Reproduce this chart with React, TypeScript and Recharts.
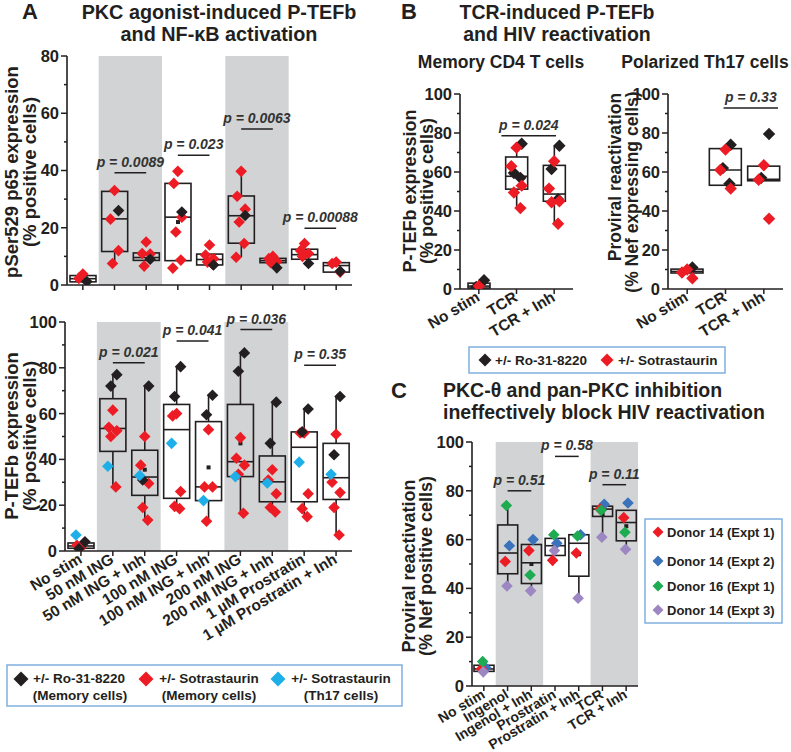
import React from 'react'
import {
  ComposedChart,
  Bar,
  Scatter,
  XAxis,
  YAxis,
  ReferenceArea,
  ReferenceLine,
  ReferenceDot,
} from 'recharts'

const FONT = '"Liberation Sans", Arial, Helvetica, sans-serif'
const INK = '#231f20'
const BAND = '#d1d3d4'
const LEGEND_EDGE = '#7fb0de'
const BLACK = '#231f20'
const RED = '#ed1c24'
const CYAN = '#1eaee8'
const BLUE = '#3a72bb'
const GREEN = '#1fab52'
const PURPLE = '#9c87c3'

// ---- Panel A, top: pSer529 p65 ----
const A_CATS = [
  'No stim',
  '50 nM ING',
  '50 nM ING + Inh',
  '100 nM ING',
  '100 nM ING + Inh',
  '200 nM ING',
  '200 nM ING + Inh',
  '1 µM Prostratin',
  '1 µM Prostratin + Inh',
]
const A_TOP_RED = [
  [3.8, 2.3],
  [33, 23, 12, 7.5],
  [15, 11, 10.8, 6.6],
  [39.7, 35.5, 23.7, 18.5, 8.7, 5.9],
  [14, 10.5, 9.2, 8, 7.3],
  [39.7, 31, 26.5, 22, 14.5, 9.7],
  [10, 9.2, 8.2, 7.8],
  [14.5, 12, 11, 10],
  [8, 7.5, 4.5],
]
const A_TOP_BLACK = [[1.2], [26], [9], [25.5], [7], [24.3], [6], [7.5], [4.8]]
const A_TOP_Q1 = [1.1, 11.7, 8.6, 8.5, 7.0, 14.6, 7.8, 9.0, 4.5]
const A_TOP_MED = [2.2, 23.1, 9.6, 23.7, 8.9, 24.2, 8.5, 10.6, 6.8]
const A_TOP_Q3 = [3.3, 32.7, 11.2, 35.5, 10.8, 31.1, 9.3, 12.5, 7.8]
const A_TOP_LO = [null, 7.5, null, null, null, 9.7, null, null, null]
const A_TOP_HI = [null, null, null, null, null, 39.7, null, null, null]
const A_TOP_MEAN = [null, null, null, 22, null, null, null, null, null]
const A_TOP_P = ['p = 0.0089', 'p = 0.023', 'p = 0.0063', 'p = 0.00088']
const A_TOP_P_Y = [39.2, 45.3, 54.5, 19.8]
const A_TOP_P_X = [[1, 2], [3, 4], [5, 6], [7, 8]]

// ---- Panel A, bottom: P-TEFb ----
const A_BOT_BLACK = [[4, 1], [77, 72], [72, 31], [80.5, 67.5], [68, 59.5], [86.5, 78.5], [65, 47], [62, 52], [67.5, 42]]
const A_BOT_RED = [
  [1.5, 2.5],
  [61.5, 54, 52.5, 50, 28],
  [50, 37.5, 29.5, 19, 13.5],
  [60, 59, 26, 19.5, 18.5],
  [53, 28, 28, 13],
  [49.5, 40.5, 37.5, 33.5, 16.5],
  [35.5, 31, 25, 19, 17],
  [51.5, 51.5, 25, 18.5, 15],
  [51, 30, 25.5, 19, 7],
]
const A_BOT_CYAN = [[7], [37], [33], [47], [22], [32.5], [29.7], [38.8], [33.5]]
const A_BOT_Q1 = [1.2, 43.5, 24.3, 23, 22, 32.5, 21.5, 21.5, 22.5]
const A_BOT_MED = [2.2, 53.5, 32.3, 53, 28, 39, 30.2, 45.3, 32]
const A_BOT_Q3 = [3.5, 66.5, 44, 64, 56.5, 64, 41.5, 52, 47]
const A_BOT_LO = [null, 28, 13.5, 18.5, 13, 16.5, 17, 15, 7]
const A_BOT_HI = [null, 77, 72, 80.5, 68, 86.5, 65, 62, 67.5]
const A_BOT_MEAN = [null, null, 35.5, null, 36.5, 47, null, null, null]
const A_BOT_P = ['p = 0.021', 'p = 0.041', 'p = 0.036', 'p = 0.35']
const A_BOT_P_Y = [82.2, 91.7, 96.7, 81.1]
const A_BOT_P_X = [[1, 2], [3, 4], [5, 6], [7, 8]]

// ---- Panel B ----
const B_CATS = ['No stim', 'TCR', 'TCR + Inh']
const B_MEM_BLACK = [[4.5, 1], [74.5, 59.5, 57], [73.5, 61.5, 46]]
const B_MEM_RED = [[1.5], [72.5, 63, 53, 49.5, 41.5], [65.5, 51.5, 45, 44.5, 33.5]]
const B_MEM_Q1 = [0.5, 51.2, 45]
const B_MEM_MED = [1.5, 57.8, 48.7]
const B_MEM_Q3 = [3, 67.7, 63.4]
const B_MEM_LO = [null, 41.5, 33.5]
const B_MEM_HI = [null, 74.5, 73.5]
const B_MEM_P = ['p = 0.024']
const B_MEM_P_Y = [78.6]
const B_MEM_P_X = [[0.6, 2.05]]

const B_TH_BLACK = [[11], [74, 62, 54], [79.5, 57]]
const B_TH_RED = [[10, 8.5, 5.5], [71.5, 61, 51.5], [63.5, 56, 36]]
const B_TH_Q1 = [8.2, 53.2, 55.5]
const B_TH_MED = [9, 61, 56.3]
const B_TH_Q3 = [10.2, 72, 63]
const B_TH_P = ['p = 0.33']
const B_TH_P_Y = [92.8]
const B_TH_P_X = [[0.95, 2.37]]

// ---- Panel C ----
const C_CATS = ['No stim', 'Ingenol', 'Ingenol + Inh', 'Prostratin', 'Prostratin + Inh', 'TCR', 'TCR + Inh']
const C_RED = [7, 51, 55.5, 51.5, 54.5, 72.5, 69]
const C_BLUE = [7.5, 57.5, 60, 58.5, 62, 74.5, 75]
const C_GREEN = [10, 74, 45.5, 62, 61.5, 72, 63]
const C_PURPLE = [5.8, 41, 39, 55.5, 36, 61, 56]
const C_Q1 = [6, 46, 42, 53.5, 45, 69.5, 59.5]
const C_MED = [7, 54.5, 50.5, 57.5, 58.5, 72.5, 67]
const C_Q3 = [8.5, 66, 58, 60.5, 62, 73.7, 72]
const C_LO = [null, 41, 39, null, 36, 61, 56]
const C_HI = [null, 74, null, null, null, null, null]
const C_MEAN = [null, null, 50, null, 54, 70.5, 65.5]
const C_P = ['p = 0.51', 'p = 0.58', 'p = 0.11']
const C_P_Y = [80, 94.1, 82.5]
const C_P_X = [[1, 2], [3, 4], [5, 6]]

const SHADED = [[0.5, 2.5], [4.5, 6.5]]
const JITTER = [0, -4, 4, -2, 3, -5, 5, -1]

type Num = number | null
type Series = { color: string; values: number[][]; seed: number }

const range = (n: number, step: number, max: number) => {
  const out: number[] = []
  for (let v = n; v <= max; v += step) out.push(v)
  return out
}

const BoxShape = (props: any) => {
  const { x, y, width, height, payload } = props
  if (!payload) return null
  const top = Math.min(y, y + height)
  const h = Math.abs(height)
  const unit = h / (payload.q3 - payload.q1)
  const py = (v: number) => top + (payload.q3 - v) * unit
  const cx = x + width / 2
  return (
    <g>
      {payload.hi != null && (
        <line x1={cx} x2={cx} y1={top} y2={py(payload.hi)} stroke={INK} strokeWidth={1.6} />
      )}
      {payload.lo != null && (
        <line x1={cx} x2={cx} y1={top + h} y2={py(payload.lo)} stroke={INK} strokeWidth={1.6} />
      )}
      <rect x={x} y={top} width={width} height={h} fill="none" stroke={INK} strokeWidth={1.6} />
      <line x1={x} x2={x + width} y1={py(payload.med)} y2={py(payload.med)} stroke={INK} strokeWidth={1.6} />
      {payload.mean != null && (
        <rect x={cx - 2} y={py(payload.mean) - 2} width={4} height={4} fill={INK} />
      )}
    </g>
  )
}

const diamond = (color: string, r: number, seed: number, spread: number) => (props: any) => {
  const { cx, cy, payload } = props
  if (cx == null || cy == null) return null
  const dx = JITTER[(payload.k + seed) % JITTER.length] * spread
  const x = cx + dx
  return <polygon points={`${x},${cy - r} ${x + r},${cy} ${x},${cy + r} ${x - r},${cy}`} fill={color} />
}

const YTick = (props: any) => {
  const { x, y, payload, fs } = props
  const ax = x + 9
  const major = payload.value % 20 === 0
  return (
    <g>
      <line x1={ax - (major ? 6 : 3)} x2={ax} y1={y} y2={y} stroke={INK} strokeWidth={1.5} />
      {major && (
        <text x={ax - 8} y={y} dy="0.36em" textAnchor="end" fontSize={fs} fontWeight={700} fill={INK} fontFamily={FONT}>
          {payload.value}
        </text>
      )}
    </g>
  )
}

const XTick = (props: any) => {
  const { x, y, payload, labels, fs } = props
  if (!labels) return <g />
  return (
    <text
      transform={`translate(${x + 2},${y + 4}) rotate(-31)`}
      textAnchor="end"
      fontSize={fs}
      fontWeight={700}
      fill={INK}
      fontFamily={FONT}
    >
      {labels[Math.round(payload.value)]}
    </text>
  )
}

type BoxChartProps = {
  width: number
  height: number
  margin: { top: number; right: number; bottom: number; left: number }
  yWidth: number
  xHeight: number
  cats: string[]
  showLabels: boolean
  labelSize: number
  q1: number[]
  med: number[]
  q3: number[]
  lo?: Num[]
  hi?: Num[]
  mean?: Num[]
  series: Series[]
  pText: string[]
  pY: number[]
  pX: number[][]
  bands: number[][]
  yMax: number
  barSize: number
  r: number
  spread: number
}

function BoxChart(p: BoxChartProps) {
  const rows = p.cats.map((c, i) => ({
    x: i,
    name: c,
    box: [p.q1[i], p.q3[i]],
    q1: p.q1[i],
    med: p.med[i],
    q3: p.q3[i],
    lo: p.lo ? p.lo[i] : null,
    hi: p.hi ? p.hi[i] : null,
    mean: p.mean ? p.mean[i] : null,
  }))
  const n = p.cats.length
  return (
    <ComposedChart width={p.width} height={p.height} margin={p.margin} data={rows}>
      {p.bands.map((b, i) => (
        <ReferenceArea key={`band-${i}`} x1={b[0]} x2={b[1]} fill={BAND} fillOpacity={1} stroke="none" />
      ))}
      <XAxis
        type="number"
        dataKey="x"
        domain={[-0.5, n - 0.5]}
        ticks={p.cats.map((_, i) => i)}
        interval={0}
        allowDataOverflow
        height={p.xHeight}
        tickSize={5}
        tickMargin={2}
        axisLine={{ stroke: INK, strokeWidth: 1.6 }}
        tickLine={{ stroke: INK, strokeWidth: 1.5 }}
        tick={<XTick labels={p.showLabels ? p.cats : null} fs={p.labelSize} />}
      />
      <YAxis
        type="number"
        domain={[0, p.yMax]}
        ticks={range(0, 10, p.yMax)}
        interval={0}
        allowDataOverflow
        width={p.yWidth}
        tickSize={6}
        tickMargin={3}
        tickLine={false}
        axisLine={{ stroke: INK, strokeWidth: 1.6 }}
        tick={<YTick fs={16.5} />}
      />
      <Bar dataKey="box" barSize={p.barSize} shape={BoxShape} isAnimationActive={false} />
      {p.pText.map((t, i) => (
        <ReferenceLine
          key={`pl-${i}`}
          segment={[
            { x: p.pX[i][0], y: p.pY[i] },
            { x: p.pX[i][1], y: p.pY[i] },
          ]}
          stroke={INK}
          strokeWidth={1.5}
          ifOverflow="visible"
        />
      ))}
      {p.pText.map((t, i) => (
        <ReferenceDot
          key={`pt-${i}`}
          x={(p.pX[i][0] + p.pX[i][1]) / 2}
          y={p.pY[i]}
          r={0}
          ifOverflow="visible"
          shape={(sp: any) => (
            <text
              x={sp.cx}
              y={sp.cy - 6}
              textAnchor="middle"
              fontSize={14}
              fontWeight={700}
              fontStyle="italic"
              fill="#333"
              fontFamily={FONT}
            >
              {t}
            </text>
          )}
        />
      ))}
      {p.series.map((s, si) => (
        <Scatter
          key={`s-${si}`}
          data={s.values.flatMap((vals, i) => vals.map((v, k) => ({ x: i, y: v, k })))}
          dataKey="y"
          shape={diamond(s.color, p.r, s.seed, p.spread)}
          isAnimationActive={false}
        />
      ))}
    </ComposedChart>
  )
}

const wrap = (a: number[]) => a.map((v) => [v])

const Diamond = ({ x, y, r, color }: { x: number; y: number; r: number; color: string }) => (
  <polygon points={`${x},${y - r} ${x + r},${y} ${x},${y + r} ${x - r},${y}`} fill={color} />
)

export default function App() {
  return (
    <div
      style={{
        position: 'absolute',
        left: 0,
        top: 0,
        width: 791,
        height: 752,
        background: '#fff',
        overflow: 'hidden',
        fontFamily: FONT,
      }}
    >
      <div style={{ position: 'absolute', left: 0, top: 36 }}>
        <BoxChart
          width={366}
          height={262}
          margin={{ top: 20, right: 14, bottom: 1, left: 0 }}
          yWidth={67}
          xHeight={12}
          cats={A_CATS}
          showLabels={false}
          labelSize={15}
          q1={A_TOP_Q1}
          med={A_TOP_MED}
          q3={A_TOP_Q3}
          lo={A_TOP_LO}
          hi={A_TOP_HI}
          mean={A_TOP_MEAN}
          series={[
            { color: RED, values: A_TOP_RED, seed: 0 },
            { color: BLACK, values: A_TOP_BLACK, seed: 2 },
          ]}
          pText={A_TOP_P}
          pY={A_TOP_P_Y}
          pX={A_TOP_P_X}
          bands={SHADED}
          yMax={80}
          barSize={26}
          r={5.8}
          spread={1}
        />
      </div>
      <div style={{ position: 'absolute', left: 0, top: 300 }}>
        <BoxChart
          width={366}
          height={350}
          margin={{ top: 22, right: 14, bottom: 4, left: 0 }}
          yWidth={65}
          xHeight={95}
          cats={A_CATS}
          showLabels
          labelSize={15.5}
          q1={A_BOT_Q1}
          med={A_BOT_MED}
          q3={A_BOT_Q3}
          lo={A_BOT_LO}
          hi={A_BOT_HI}
          mean={A_BOT_MEAN}
          series={[
            { color: RED, values: A_BOT_RED, seed: 0 },
            { color: BLACK, values: A_BOT_BLACK, seed: 2 },
            { color: CYAN, values: A_BOT_CYAN, seed: 5 },
          ]}
          pText={A_BOT_P}
          pY={A_BOT_P_Y}
          pX={A_BOT_P_X}
          bands={SHADED}
          yMax={100}
          barSize={26}
          r={5.8}
          spread={1}
        />
      </div>
      <div style={{ position: 'absolute', left: 400, top: 75 }}>
        <BoxChart
          width={180}
          height={265}
          margin={{ top: 19, right: 7, bottom: 1, left: 0 }}
          yWidth={60}
          xHeight={50}
          cats={B_CATS}
          showLabels
          labelSize={15.5}
          q1={B_MEM_Q1}
          med={B_MEM_MED}
          q3={B_MEM_Q3}
          lo={B_MEM_LO}
          hi={B_MEM_HI}
          series={[
            { color: BLACK, values: B_MEM_BLACK, seed: 2 },
            { color: RED, values: B_MEM_RED, seed: 0 },
          ]}
          pText={B_MEM_P}
          pY={B_MEM_P_Y}
          pX={B_MEM_P_X}
          bands={[]}
          yMax={100}
          barSize={22}
          r={6.2}
          spread={1.3}
        />
      </div>
      <div style={{ position: 'absolute', left: 600, top: 75 }}>
        <BoxChart
          width={191}
          height={265}
          margin={{ top: 19, right: 8, bottom: 1, left: 0 }}
          yWidth={68}
          xHeight={50}
          cats={B_CATS}
          showLabels
          labelSize={15.5}
          q1={B_TH_Q1}
          med={B_TH_MED}
          q3={B_TH_Q3}
          series={[
            { color: BLACK, values: B_TH_BLACK, seed: 2 },
            { color: RED, values: B_TH_RED, seed: 0 },
          ]}
          pText={B_TH_P}
          pY={B_TH_P_Y}
          pX={B_TH_P_X}
          bands={[]}
          yMax={100}
          barSize={32}
          r={6.2}
          spread={1.3}
        />
      </div>
      <div style={{ position: 'absolute', left: 400, top: 420 }}>
        <BoxChart
          width={245}
          height={332}
          margin={{ top: 22, right: 7, bottom: 2, left: 0 }}
          yWidth={72}
          xHeight={64}
          cats={C_CATS}
          showLabels
          labelSize={14}
          q1={C_Q1}
          med={C_MED}
          q3={C_Q3}
          lo={C_LO}
          hi={C_HI}
          mean={C_MEAN}
          series={[
            { color: BLUE, values: wrap(C_BLUE), seed: 4 },
            { color: RED, values: wrap(C_RED), seed: 1 },
            { color: GREEN, values: wrap(C_GREEN), seed: 3 },
            { color: PURPLE, values: wrap(C_PURPLE), seed: 7 },
          ]}
          pText={C_P}
          pY={C_P_Y}
          pX={C_P_X}
          bands={SHADED}
          yMax={100}
          barSize={20}
          r={5.8}
          spread={0.6}
        />
      </div>

      <svg
        width={791}
        height={752}
        style={{ position: 'absolute', left: 0, top: 0, pointerEvents: 'none' }}
        fontFamily={FONT}
        fontWeight={700}
        fill={INK}
      >
        <text x={22} y={19} fontSize={22}>A</text>
        <text x={219} y={19} fontSize={19.8} textAnchor="middle">PKC agonist-induced P-TEFb</text>
        <text x={219} y={41} fontSize={19.8} textAnchor="middle">and NF-κB activation</text>
        <text transform="translate(18,172) rotate(-90)" fontSize={18.5} textAnchor="middle">pSer529 p65 expression</text>
        <text transform="translate(36,172) rotate(-90)" fontSize={18.5} textAnchor="middle">(% positive cells)</text>
        <text transform="translate(18,436) rotate(-90)" fontSize={18.5} textAnchor="middle">P-TEFb expression</text>
        <text transform="translate(36,436) rotate(-90)" fontSize={18.5} textAnchor="middle">(% positive cells)</text>

        <rect x={7} y={665} width={395} height={41} fill="#fff" stroke={LEGEND_EDGE} strokeWidth={1.5} />
        <Diamond x={21} y={679} r={7.5} color={BLACK} />
        <text x={79} y={683} fontSize={13.5} textAnchor="middle">+/- Ro-31-8220</text>
        <text x={80} y={700} fontSize={13.5} textAnchor="middle">(Memory cells)</text>
        <Diamond x={146} y={679} r={7.5} color={RED} />
        <text x={209} y={683} fontSize={13.5} textAnchor="middle">+/- Sotrastaurin</text>
        <text x={209} y={700} fontSize={13.5} textAnchor="middle">(Memory cells)</text>
        <Diamond x={278} y={679} r={7.5} color={CYAN} />
        <text x={341} y={683} fontSize={13.5} textAnchor="middle">+/- Sotrastaurin</text>
        <text x={341} y={700} fontSize={13.5} textAnchor="middle">(Th17 cells)</text>

        <text x={401} y={19} fontSize={22}>B</text>
        <text x={557} y={19} fontSize={19.5} textAnchor="middle">TCR-induced P-TEFb</text>
        <text x={557} y={41} fontSize={19.5} textAnchor="middle">and HIV reactivation</text>
        <text x={501} y={68} fontSize={17.5} textAnchor="middle">Memory CD4 T cells</text>
        <text x={705} y={68} fontSize={17.5} textAnchor="middle">Polarized Th17 cells</text>
        <text transform="translate(416,191) rotate(-90)" fontSize={18} textAnchor="middle">P-TEFb expression</text>
        <text transform="translate(433,191) rotate(-90)" fontSize={18} textAnchor="middle">(% positive cells)</text>
        <text transform="translate(621,177) rotate(-90)" fontSize={17.5} textAnchor="middle">Proviral reactivation</text>
        <text transform="translate(638,192) rotate(-90)" fontSize={17.5} textAnchor="middle">(% Nef expressing cells)</text>

        <rect x={469} y={347} width={256} height={26} fill="#fff" stroke={LEGEND_EDGE} strokeWidth={1.5} />
        <Diamond x={485} y={360} r={6.5} color={BLACK} />
        <text x={495} y={365} fontSize={13.5}>+/- Ro-31-8220</text>
        <Diamond x={607} y={360} r={6.5} color={RED} />
        <text x={618} y={365} fontSize={13.5}>+/- Sotrastaurin</text>

        <text x={391} y={398} fontSize={22}>C</text>
        <text x={443} y={397} fontSize={19.5}>PKC-θ and pan-PKC inhibition</text>
        <text x={443} y={419} fontSize={19.5}>ineffectively block HIV reactivation</text>
        <text transform="translate(415,566) rotate(-90)" fontSize={18} textAnchor="middle">Proviral reactivation</text>
        <text transform="translate(432,566) rotate(-90)" fontSize={18} textAnchor="middle">(% Nef positive cells)</text>

        <rect x={645} y={519} width={137} height={104} fill="#fff" stroke={LEGEND_EDGE} strokeWidth={1.5} />
        <Diamond x={658} y={532} r={5.5} color={RED} />
        <text x={667} y={537} fontSize={13}>Donor 14 (Expt 1)</text>
        <Diamond x={658} y={561} r={5.5} color={BLUE} />
        <text x={667} y={566} fontSize={13}>Donor 14 (Expt 2)</text>
        <Diamond x={658} y={586} r={5.5} color={GREEN} />
        <text x={667} y={591} fontSize={13}>Donor 16 (Expt 1)</text>
        <Diamond x={658} y={610} r={5.5} color={PURPLE} />
        <text x={667} y={615} fontSize={13}>Donor 14 (Expt 3)</text>
      </svg>
    </div>
  )
}
